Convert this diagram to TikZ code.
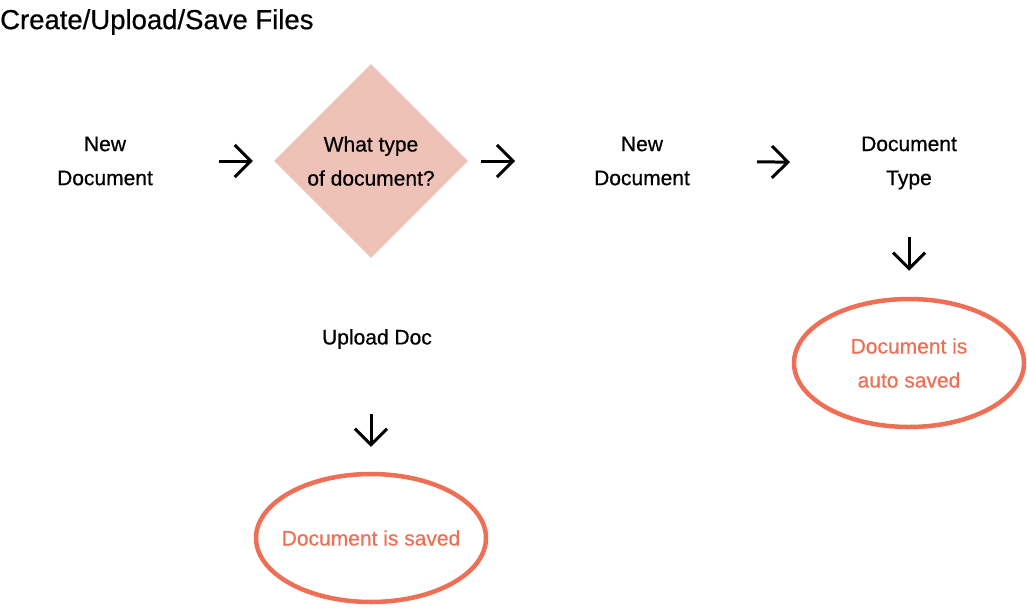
\documentclass[tikz,border=0pt]{standalone}
\usepackage{fontspec}
\setmainfont{Liberation Sans}
\newfontfamily\medfont{Liberation Sans}[UprightFeatures={FakeBold=0.6}]
\usetikzlibrary{shapes.geometric,arrows.meta}
\definecolor{diamondfill}{HTML}{EFC2B7}
\definecolor{saveline}{HTML}{EF6F56}
\begin{document}
\begin{tikzpicture}[x=1pt,y=-1pt,
    lbl/.style={align=center,font=\medfont\fontsize{21}{34}\selectfont,inner sep=0},
    flow/.style={-{Straight Barb[length=16pt,width=32pt,line width=3pt]},line width=3pt},
    saved/.style={ellipse,draw=saveline,line width=4.5pt,minimum width=230pt,minimum height=128pt,
        inner ysep=0,inner xsep=-8pt,text=saveline,align=center,font=\medfont\fontsize{21}{34}\selectfont}]
    \useasboundingbox (0,0) rectangle (1027,608);

    \node[anchor=west,font=\medfont\fontsize{27.5}{30}\selectfont,inner sep=0] (title) at (0,22) {Create/Upload/Save Files};

    \node[lbl] (newdoc) at (105,161) {New\\Document};
    \node[diamond,fill=diamondfill,minimum width=194pt,minimum height=194pt,inner sep=0,lbl] (doctype) at (371,161) {What type\\of document?};
    \node[lbl] (newdoc2) at (642,161) {New\\Document};
    \node[lbl] (typechoice) at (909,163) {Document\\Type};

    \node[lbl] (upload) at (377,339) {Upload Doc};

    \node[saved] (autosaved) at (909,363) {Document is\\auto saved};
    \node[saved] (docsaved) at (371,538) {Document is saved};

    \draw[flow,shorten <=114pt,shorten >=21pt] (newdoc.center) -- (doctype.west);
    \draw[flow,shorten <=13pt,shorten >=127pt] (doctype.east) -- (newdoc2.center);
    \draw[flow,shorten <=115pt,shorten >=119pt] (newdoc2.center) -- (typechoice.center);
    \draw[flow,shorten <=74pt,shorten >=26pt] (typechoice.center) -- (autosaved.north);
    \draw[flow,shorten <=75pt,shorten >=25pt] (upload.center -| docsaved.north) -- (docsaved.north);
\end{tikzpicture}
\end{document}
